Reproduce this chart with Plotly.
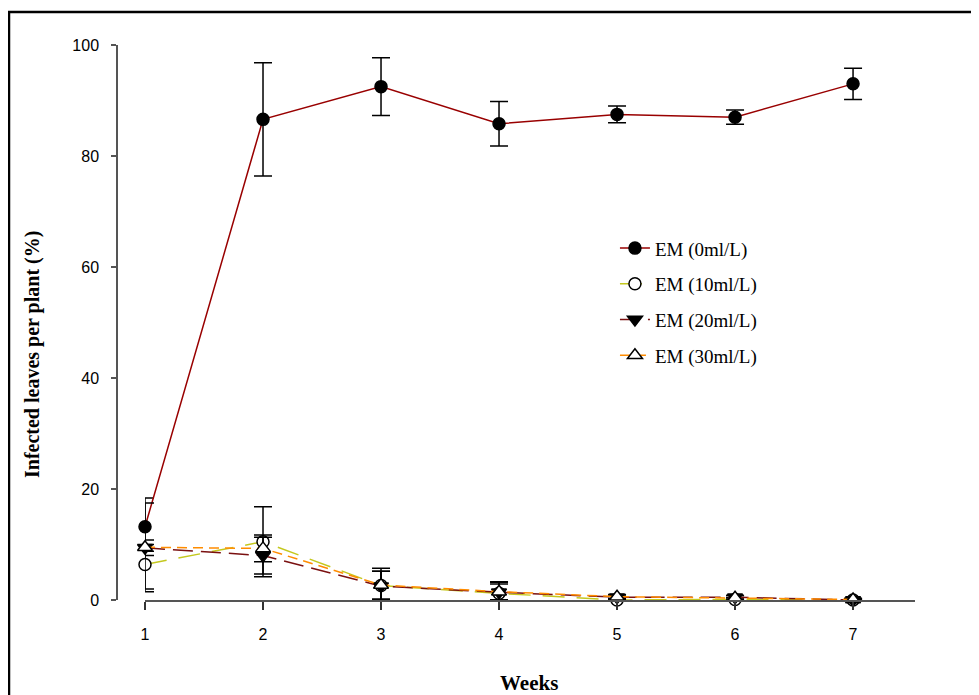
import plotly.graph_objects as go

weeks = [1, 2, 3, 4, 5, 6, 7]
em0 = [13.2, 86.6, 92.5, 85.8, 87.5, 87.0, 93.0]
em0_err = [5.2, 10.2, 5.2, 4.0, 1.5, 1.3, 2.8]
em10 = [6.4, 10.5, 2.6, 1.2, 0.0, 0.1, 0.0]
em10_err = [4.4, 6.3, 3.1, 2.0, 0.3, 0.3, 0.2]
em20 = [9.4, 8.0, 2.5, 1.4, 0.5, 0.5, 0.0]
em20_err = [0.6, 3.3, 2.7, 1.5, 0.4, 0.3, 0.2]
em30 = [9.5, 9.3, 2.7, 1.5, 0.6, 0.4, 0.1]
em30_err = [8.0, 2.4, 2.5, 1.8, 0.4, 0.4, 0.2]
series_names = ["EM (0ml/L)", "EM (10ml/L)", "EM (20ml/L)", "EM (30ml/L)"]

styles = [
    dict(color="#990000", dash="solid", symbol="circle", mfill="black", size=12),
    dict(color="#c4c81e", dash="22px,12px", symbol="circle", mfill="white", size=12),
    dict(color="#7a1010", dash="20px,8px", symbol="triangle-down", mfill="black", size=13),
    dict(color="#ff8c00", dash="10px,6px", symbol="triangle-up", mfill="white", size=13),
]

fig = go.Figure()
for name, vals, errs, st in zip(series_names, [em0, em10, em20, em30],
                                [em0_err, em10_err, em20_err, em30_err], styles):
    minus = [min(e, v) for v, e in zip(vals, errs)]
    fig.add_trace(go.Scatter(
        x=weeks, y=vals, name=name, mode="lines+markers",
        legendgroup=name,
        line=dict(color=st["color"], width=1.5, dash=st["dash"]),
        marker=dict(symbol=st["symbol"], size=st["size"], color=st["mfill"],
                    line=dict(color="black", width=1.5)),
        error_y=dict(type="data", array=errs, arrayminus=minus, symmetric=False,
                     color="black", thickness=1.5, width=9),
        cliponaxis=False,
    ))

# page has an 8px body margin; figure pixel = page pixel - 8
L, T, W, H = 109, 37, 798, 555

fig.update_layout(
    width=971, height=687,
    margin=dict(l=L, r=971 - L - W, t=T, b=687 - T - H),
    paper_bgcolor="white", plot_bgcolor="white",
    font=dict(family="Liberation Sans, Arial", size=16, color="black"),
    showlegend=True,
    legend=dict(x=0.624, y=0.668, xanchor="left", yanchor="top",
                font=dict(family="Liberation Serif, Times New Roman", size=19, color="black"),
                bgcolor="rgba(0,0,0,0)", tracegroupgap=8, itemwidth=30),
    xaxis=dict(domain=[28 / W, 1], range=[1, 7.525], tickvals=weeks,
               showline=True, linecolor="#555555", linewidth=1.5,
               ticks="outside", ticklen=8, tickcolor="#333333", tickwidth=1.5,
               showgrid=False, zeroline=False, ticklabelstandoff=11),
    yaxis=dict(range=[0, 100], dtick=20, anchor="free", position=0,
               showline=True, linecolor="#555555", linewidth=1.5,
               ticks="outside", ticklen=5, tickcolor="#555555", tickwidth=1.5,
               showgrid=False, zeroline=False, ticklabelstandoff=9),
    annotations=[
        dict(text="<b>Infected leaves per plant (%)</b>", xref="paper", yref="paper",
             x=(32 - 117) / W, y=(600 - 355) / H, textangle=-90, showarrow=False,
             font=dict(family="Liberation Serif, Times New Roman", size=20, color="black"),
             xanchor="center", yanchor="middle"),
        dict(text="<b>Weeks</b>", xref="paper", yref="paper",
             x=(529 - 117) / W, y=-(683 - 600) / H, showarrow=False,
             font=dict(family="Liberation Serif, Times New Roman", size=21, color="black"),
             xanchor="center", yanchor="middle"),
    ],
    shapes=[
        dict(type="rect", xref="paper", yref="paper",
             x0=(1 - L) / W, x1=(990 - L) / W,
             y0=-(710 - T - H) / H, y1=(T + H - 4) / H,
             line=dict(color="black", width=2.5), fillcolor="rgba(0,0,0,0)"),
    ],
)

fig.write_html("out.html")
